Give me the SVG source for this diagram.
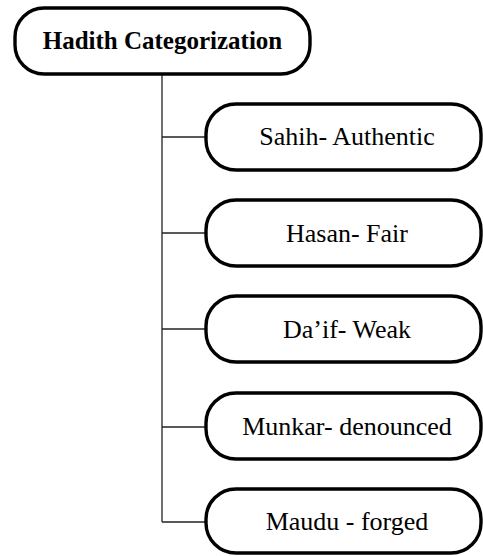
<svg xmlns="http://www.w3.org/2000/svg" width="483" height="556" viewBox="0 0 483 556">
<style>
.box{fill:#fff;stroke:#000;stroke-width:3.4}
.t{font-family:'Liberation Serif','Times New Roman','DejaVu Serif',serif;font-size:26px;fill:#000;text-anchor:middle}
.hb{font-weight:bold;font-size:25px}
.c{stroke:#222;stroke-width:1.3;fill:none}
</style>
<rect width="483" height="556" fill="#fff"/>
<g id="connectors">
<path class="c" d="M162 74 V522"/>
<path class="c" d="M162 137 H206"/>
<path class="c" d="M162 233 H206"/>
<path class="c" d="M162 329 H206"/>
<path class="c" d="M162 427 H206"/>
<path class="c" d="M162 522 H206"/>
</g>
<g id="root">
<rect class="box" x="15" y="8" width="295" height="66" rx="29"/>
<text class="t hb" x="162.5" y="49" font-family="Liberation Serif, serif">Hadith Categorization</text>
</g>
<g id="sahih">
<rect class="box" x="206" y="104" width="275" height="66" rx="30"/>
<text class="t" x="347" y="145" font-family="Liberation Serif, serif">Sahih- Authentic</text>
</g>
<g id="hasan">
<rect class="box" x="206" y="200" width="275" height="66" rx="30"/>
<text class="t" x="347" y="242" font-family="Liberation Serif, serif">Hasan- Fair</text>
</g>
<g id="daif">
<rect class="box" x="206" y="296" width="275" height="66" rx="30"/>
<text class="t" x="347" y="338" font-family="Liberation Serif, serif">Da’if- Weak</text>
</g>
<g id="munkar">
<rect class="box" x="206" y="393" width="275" height="66" rx="30"/>
<text class="t" x="347" y="435" font-family="Liberation Serif, serif">Munkar- denounced</text>
</g>
<g id="maudu">
<rect class="box" x="206" y="489" width="275" height="64" rx="30"/>
<text class="t" x="347" y="530" font-family="Liberation Serif, serif">Maudu - forged</text>
</g>
</svg>
